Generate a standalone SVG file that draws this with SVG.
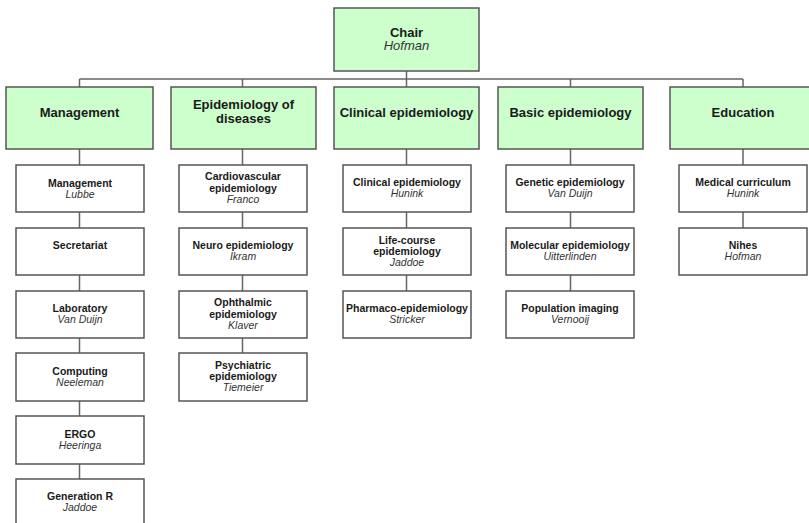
<svg xmlns="http://www.w3.org/2000/svg" width="809" height="523" viewBox="0 0 809 523">
<style>
.top{fill:#ccffcc;stroke:#555;stroke-width:1.5}
.box{fill:#fff;stroke:#555;stroke-width:1.5}
.conn{stroke:#666;stroke-width:1.5;fill:none}
text{font-family:"Liberation Sans",Arial,sans-serif;text-anchor:middle;fill:#1a1a1a}
.tb{font-size:13px;font-weight:bold}
.ti{font-size:13px;font-style:italic;fill:#333}
.b{font-size:10.5px;font-weight:bold}
.i{font-size:10.5px;font-style:italic;fill:#333}
</style>
<rect width="809" height="523" fill="#fff"/>
<g id="connectors">
<path class="conn" d="M406.5 71V79M79.5 79H743M79.5 79V87M242.5 79V87M406.5 79V87M570.5 79V87M743 79V87"/>
<path class="conn" d="M79.5 149V480M242.5 149V354M406.5 149V291M570.5 149V291M743 149V228"/>
</g>
<g id="chair"><rect class="top" x="334" y="8" width="145" height="63"/><text class="tb" x="406.5" y="36.5">Chair</text><text class="ti" x="406.5" y="50">Hofman</text></g>
<g id="management"><rect class="top" x="6" y="87" width="147" height="62"/><text class="tb" x="79.5" y="116.5">Management</text></g>
<g id="epidemiology-of-diseases"><rect class="top" x="171" y="87" width="145" height="62"/><text class="tb" x="243.5" y="109">Epidemiology of</text><text class="tb" x="243.5" y="123">diseases</text></g>
<g id="clinical-epidemiology"><rect class="top" x="334" y="87" width="145" height="62"/><text class="tb" x="406.5" y="116.5">Clinical epidemiology</text></g>
<g id="basic-epidemiology"><rect class="top" x="498" y="87" width="145" height="62"/><text class="tb" x="570.5" y="116.5">Basic epidemiology</text></g>
<g id="education"><rect class="top" x="670" y="87" width="146" height="62"/><text class="tb" x="743" y="116.5">Education</text></g>

<g id="m1"><rect class="box" x="16" y="165" width="128" height="47"/><text class="b" x="80" y="187">Management</text><text class="i" x="80" y="198">Lubbe</text></g>
<g id="m2"><rect class="box" x="16" y="228" width="128" height="47"/><text class="b" x="80" y="249">Secretariat</text></g>
<g id="m3"><rect class="box" x="16" y="291" width="128" height="47"/><text class="b" x="80" y="312">Laboratory</text><text class="i" x="80" y="323">Van Duijn</text></g>
<g id="m4"><rect class="box" x="16" y="353" width="128" height="48"/><text class="b" x="80" y="375">Computing</text><text class="i" x="80" y="386">Neeleman</text></g>
<g id="m5"><rect class="box" x="16" y="416" width="128" height="48"/><text class="b" x="80" y="437.5">ERGO</text><text class="i" x="80" y="448.5">Heeringa</text></g>
<g id="m6"><rect class="box" x="16" y="479" width="128" height="48"/><text class="b" x="80" y="500">Generation R</text><text class="i" x="80" y="511">Jaddoe</text></g>

<g id="e1"><rect class="box" x="179" y="165" width="128" height="47"/><text class="b" x="243" y="180">Cardiovascular</text><text class="b" x="243" y="192">epidemiology</text><text class="i" x="243" y="203">Franco</text></g>
<g id="e2"><rect class="box" x="179" y="228" width="128" height="47"/><text class="b" x="243" y="249">Neuro epidemiology</text><text class="i" x="243" y="260">Ikram</text></g>
<g id="e3"><rect class="box" x="179" y="291" width="128" height="47"/><text class="b" x="243" y="306">Ophthalmic</text><text class="b" x="243" y="317.5">epidemiology</text><text class="i" x="243" y="328.5">Klaver</text></g>
<g id="e4"><rect class="box" x="179" y="353" width="128" height="48"/><text class="b" x="243" y="369">Psychiatric</text><text class="b" x="243" y="380">epidemiology</text><text class="i" x="243" y="391">Tiemeier</text></g>

<g id="c1"><rect class="box" x="343" y="165" width="128" height="47"/><text class="b" x="407" y="186">Clinical epidemiology</text><text class="i" x="407" y="197">Hunink</text></g>
<g id="c2"><rect class="box" x="343" y="228" width="128" height="47"/><text class="b" x="407" y="243.5">Life-course</text><text class="b" x="407" y="254.5">epidemiology</text><text class="i" x="407" y="265.5">Jaddoe</text></g>
<g id="c3"><rect class="box" x="343" y="291" width="128" height="47"/><text class="b" x="407" y="312">Pharmaco-epidemiology</text><text class="i" x="407" y="323">Stricker</text></g>

<g id="b1"><rect class="box" x="506" y="165" width="128" height="47"/><text class="b" x="570" y="186">Genetic epidemiology</text><text class="i" x="570" y="197">Van Duijn</text></g>
<g id="b2"><rect class="box" x="506" y="228" width="128" height="47"/><text class="b" x="570" y="249">Molecular epidemiology</text><text class="i" x="570" y="260">Uitterlinden</text></g>
<g id="b3"><rect class="box" x="506" y="291" width="128" height="47"/><text class="b" x="570" y="312">Population imaging</text><text class="i" x="570" y="323">Vernooij</text></g>

<g id="ed1"><rect class="box" x="679" y="165" width="128" height="47"/><text class="b" x="743" y="186">Medical curriculum</text><text class="i" x="743" y="197">Hunink</text></g>
<g id="ed2"><rect class="box" x="679" y="228" width="128" height="47"/><text class="b" x="743" y="249">Nihes</text><text class="i" x="743" y="260">Hofman</text></g>
</svg>
